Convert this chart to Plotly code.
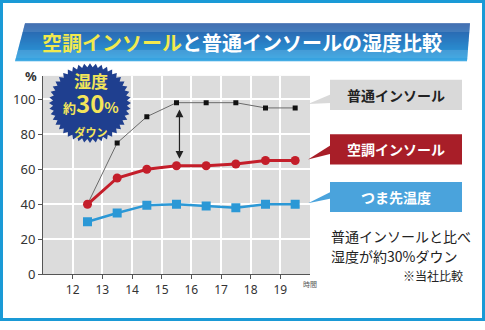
import math
import plotly.graph_objects as go

# ---------------- data ----------------
hours = [12.5, 13.5, 14.5, 15.5, 16.5, 17.5, 18.5, 19.5]
normal_insole = [40, 75, 90, 98, 98, 98, 95, 95]      # 普通インソール
ac_insole = [40, 55, 60, 62, 62, 63, 65, 65]          # 空調インソール
toe_temp = [30, 35, 39.5, 40, 39, 38, 40, 40]         # つま先温度
x_ticks = [12, 13, 14, 15, 16, 17, 18, 19]
y_ticks = [0, 20, 40, 60, 80, 100]

W, H = 485, 330
JP = "Noto Sans CJK JP"


def px(X):
    return X / W


def py(Y):
    return 1 - Y / H


def path(points):
    return "M " + " L ".join(f"{px(x):.5f},{py(y):.5f}" for x, y in points) + " Z"


def note(X, Y, text, size, color, anchor="center", family=JP, pad=1):
    return dict(xref="paper", yref="paper", x=px(X), y=py(Y),
                xanchor=anchor, yanchor="middle", showarrow=False, text=text,
                borderpad=pad, font=dict(family=family, size=size, color=color))


fig = go.Figure()

fig.add_trace(go.Scatter(x=hours, y=normal_insole, mode="lines+markers",
                         line=dict(color="#6a6a6a", width=1),
                         marker=dict(symbol="square", size=5, color="#111111"),
                         name="普通インソール"))
fig.add_trace(go.Scatter(x=hours, y=ac_insole, mode="lines+markers",
                         line=dict(color="#c41e2a", width=3),
                         marker=dict(symbol="circle", size=9, color="#c41e2a"),
                         name="空調インソール"))
fig.add_trace(go.Scatter(x=hours, y=toe_temp, mode="lines+markers",
                         line=dict(color="#2b98d6", width=2.5),
                         marker=dict(symbol="square", size=9, color="#2b98d6"),
                         name="つま先温度"))

shapes = []
annotations = []

# outer border
shapes.append(dict(type="rect", xref="paper", yref="paper",
                   x0=px(1.5), x1=px(W - 1.5), y0=py(H - 1.5), y1=py(1.5),
                   line=dict(color="#1a9ad6", width=3), fillcolor="rgba(0,0,0,0)",
                   layer="below"))

# title banner with vertical gradient
top, bot = 24.0, 63.0
lt, lb, rt, rb = 25.0, 15.0, 470.0, 467.0
c_top = (43, 91, 166)
c_bot = (42, 162, 226)
n = 39
for i in range(n):
    y0 = top + (bot - top) * i / n
    y1 = min(top + (bot - top) * (i + 1) / n + 0.3, bot)
    t0 = (y0 - top) / (bot - top)
    t1 = (y1 - top) / (bot - top)
    tm = (t0 + t1) / 2
    col = "rgb(%d,%d,%d)" % tuple(int(c_top[k] + (c_bot[k] - c_top[k]) * tm) for k in range(3))
    pts = [(lt + (lb - lt) * t0, y0), (rt + (rb - rt) * t0, y0),
           (rt + (rb - rt) * t1, y1), (lt + (lb - lt) * t1, y1)]
    shapes.append(dict(type="path", xref="paper", yref="paper", path=path(pts),
                       fillcolor=col, line=dict(width=0), layer="below"))

annotations.append(note(40, 44,
                        "<b><span style='color:#f2e94e'>空調インソール</span>"
                        "<span style='color:#ffffff'>と普通インソールの湿度比較</span></b>",
                        20, "#ffffff", anchor="left"))

# starburst
cx, cy, R, r, N = 90.0, 106.0, 41.0, 37.0, 44
pts = []
for k in range(2 * N):
    ang = math.pi * k / N
    rad = R if k % 2 == 0 else r
    pts.append((cx + rad * math.cos(ang), cy + rad * math.sin(ang)))
shapes.append(dict(type="path", xref="paper", yref="paper", path=path(pts),
                   fillcolor="#1f3f8f", line=dict(width=0), layer="above"))
yel = "#f3e55a"
annotations.append(note(91, 107,
                        "<b><span style='font-size:17px'>湿度</span></b><br>"
                        "<b><span style='font-size:13px'>約</span>"
                        "<span style='font-size:24px'>30</span>"
                        "<span style='font-size:15px'>%</span></b><br>"
                        "<b><span style='font-size:11px'>ダウン</span></b>",
                        19, yel, pad=0))

# callout boxes
boxes = [
    ("普通インソール", 82, 113, "#d9d9d9", "#222222", [(331, 97), (331, 106), (308, 107)]),
    ("空調インソール", 138, 169, "#a81e28", "#ffffff", [(331, 149), (331, 158), (308, 164)]),
    ("つま先温度", 187, 218, "#4aa3dc", "#ffffff", [(331, 197), (331, 204), (308, 209)]),
]
for label, y0, y1, fc, tc, tri in boxes:
    shapes.append(dict(type="rect", xref="paper", yref="paper",
                       x0=px(330), x1=px(462), y0=py(y1), y1=py(y0),
                       fillcolor=fc, line=dict(width=0), layer="below"))
    shapes.append(dict(type="path", xref="paper", yref="paper", path=path(tri),
                       fillcolor=fc, line=dict(width=0), layer="below"))
    annotations.append(note(396, (y0 + y1) / 2, "<b>" + label + "</b>", 14, tc))

# notes
annotations.append(note(329, 243, "普通インソールと比べ", 14, "#222222", anchor="left"))
annotations.append(note(329, 263, "湿度が約30%ダウン", 14, "#222222", anchor="left"))
annotations.append(note(465, 283, "※当社比較", 12, "#222222", anchor="right"))

# axis unit labels
annotations.append(note(31, 78, "<b>%</b>", 13, "#333333", family="Noto Sans"))
annotations.append(note(310, 292, "時間", 7, "#555555"))

# double-headed arrow
annotations.append(dict(x=15.6, y=66, ax=15.6, ay=95, xref="x", yref="y",
                        axref="x", ayref="y", showarrow=True, text="",
                        arrowhead=2, startarrowhead=2, arrowside="end+start",
                        arrowsize=1.3, startarrowsize=1.3, arrowwidth=1.2,
                        arrowcolor="#222222"))

fig.update_layout(
    width=W, height=H,
    margin=dict(l=0, r=0, t=0, b=0),
    paper_bgcolor="#ffffff",
    plot_bgcolor="#dcdcdc",
    showlegend=False,
    shapes=shapes,
    annotations=annotations,
    xaxis=dict(domain=[px(43), px(310)], range=[11, 20], tickvals=x_ticks,
               showgrid=True, gridcolor="#ffffff", gridwidth=2,
               showline=True, linecolor="#555555", linewidth=1,
               ticks="outside", ticklen=4, tickcolor="#555555",
               tickfont=dict(family="Noto Sans", size=12, color="#333333"),
               zeroline=False, fixedrange=True),
    yaxis=dict(domain=[py(282), py(78)], range=[0, 113.3], tickvals=y_ticks,
               showgrid=True, gridcolor="#ffffff", gridwidth=2,
               showline=True, linecolor="#555555", linewidth=1,
               ticks="outside", ticklen=4, tickcolor="#555555",
               tickfont=dict(family="Noto Sans", size=13, color="#333333"),
               zeroline=False, fixedrange=True),
)

fig.write_html("out.html")
